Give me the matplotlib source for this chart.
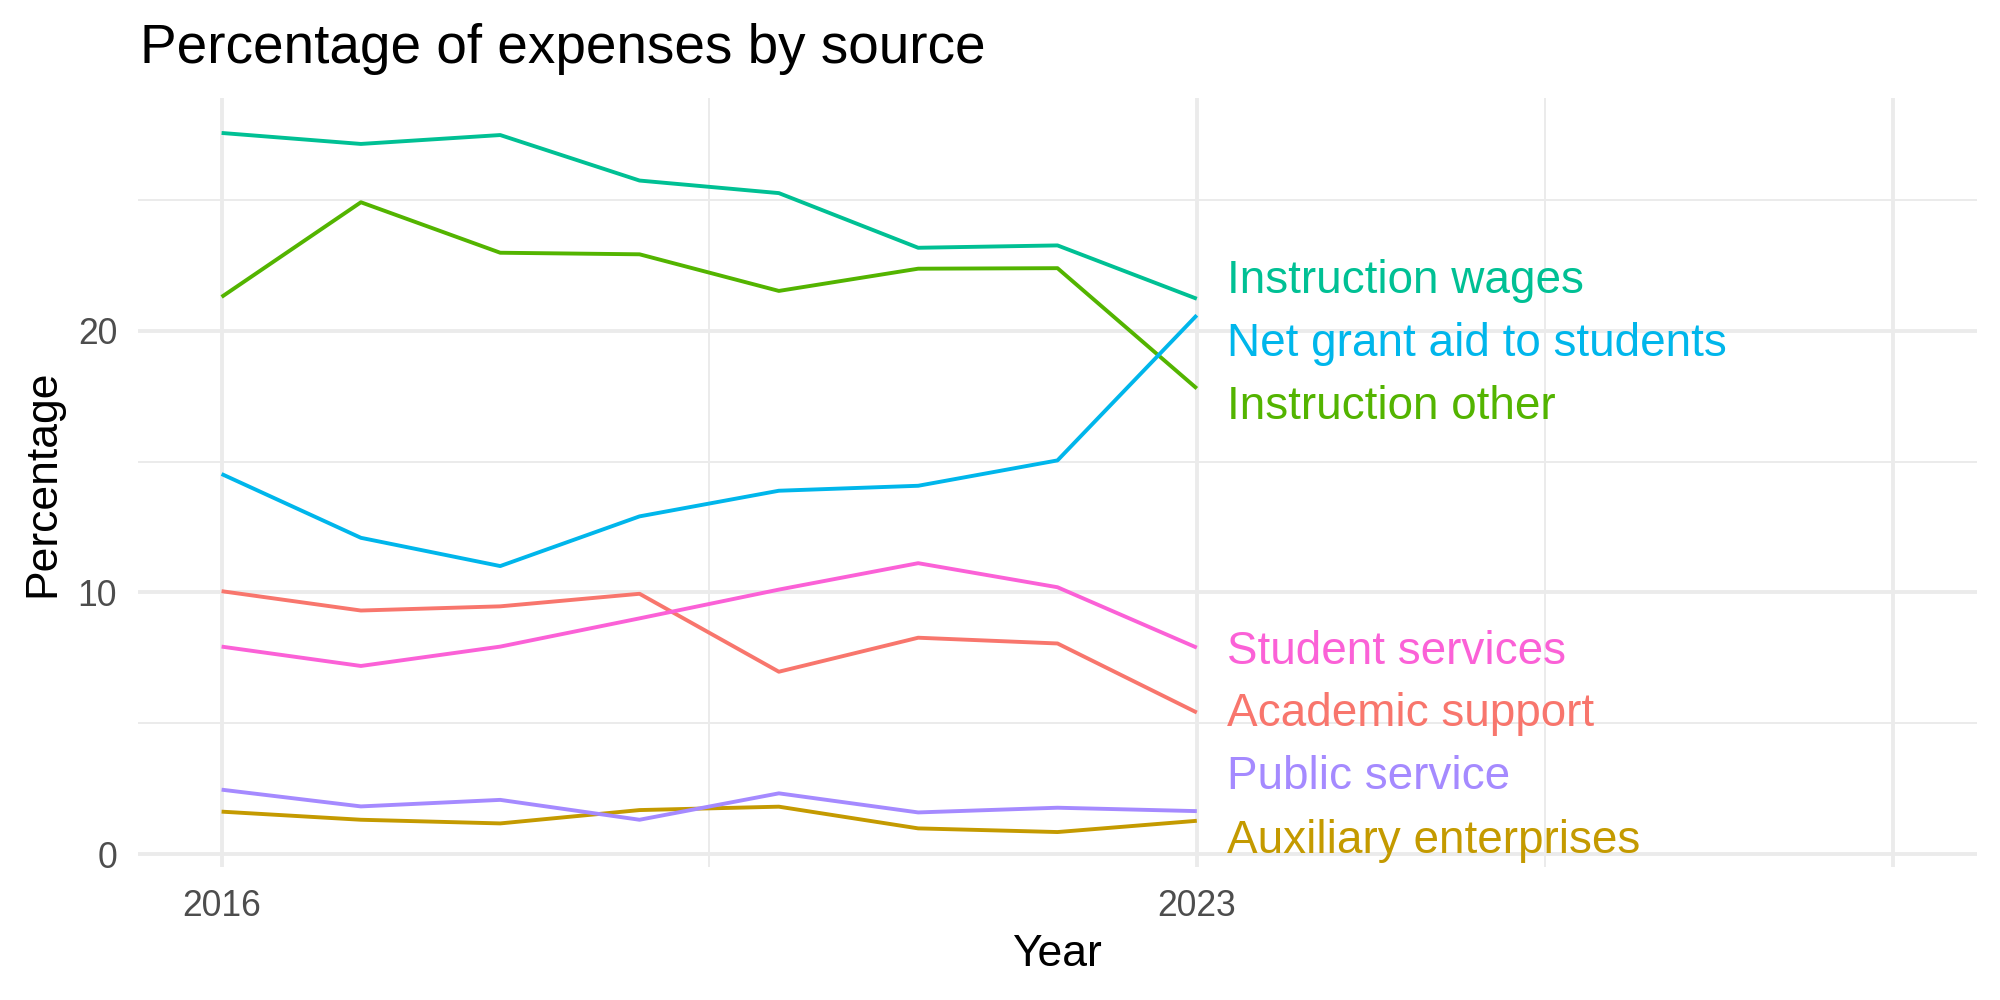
import numpy as np
import matplotlib
matplotlib.use("Agg")
import matplotlib.pyplot as plt
from matplotlib.ticker import FixedLocator

plt.rcParams['font.family'] = ['Liberation Sans', 'DejaVu Sans']

years = [2016, 2017, 2018, 2019, 2020, 2021, 2022, 2023]

# percentages
academic_support = [10.05, 9.31, 9.47, 9.95, 6.97, 8.27, 8.05, 5.41]
auxiliary_enterprises = [1.62, 1.31, 1.17, 1.68, 1.81, 0.98, 0.84, 1.27]
instruction_other = [21.30, 24.92, 22.99, 22.93, 21.53, 22.38, 22.40, 17.80]
instruction_wages = [27.57, 27.15, 27.49, 25.75, 25.27, 23.18, 23.27, 21.23]
net_grant_aid = [14.53, 12.09, 11.01, 12.91, 13.89, 14.08, 15.05, 20.60]
public_service = [2.46, 1.82, 2.07, 1.31, 2.32, 1.59, 1.77, 1.64]
student_services = [7.93, 7.19, 7.93, 9.01, 10.11, 11.12, 10.20, 7.89]

sources = ["Academic support", "Auxiliary enterprises", "Instruction other",
           "Instruction wages", "Net grant aid to students", "Public service",
           "Student services"]
series = [academic_support, auxiliary_enterprises, instruction_other,
          instruction_wages, net_grant_aid, public_service, student_services]
colors = ["#F8766D", "#C49A00", "#53B400", "#00C094", "#00B6EB", "#A58AFF", "#FB61D7"]

# repelled label heights (y of label centre)
label_y = [5.34, 0.50, 17.08, 21.90, 19.51, 2.93, 7.74]

fig = plt.figure(figsize=(20, 10), dpi=100)
ax = fig.add_axes([138/2000, 133/1000, 1839/2000, 769/1000])

for s, vals, c in zip(sources, series, colors):
    ax.plot(years, vals, color=c, lw=2.8, solid_capstyle='butt', zorder=3)

for s, ly, c in zip(sources, label_y, colors):
    ax.text(2023.22, ly, s, color=c, fontsize=33, ha='left', va='center', zorder=4)

ax.set_xlim(2016 - 0.6, 2028 + 0.6)
ax.margins(y=0.05)

ax.xaxis.set_major_locator(FixedLocator([2016, 2023, 2028]))
ax.set_xticklabels(["2016", "2023", ""])
ax.xaxis.set_minor_locator(FixedLocator([2019.5, 2025.5]))
ax.yaxis.set_major_locator(FixedLocator([0, 10, 20]))
ax.yaxis.set_minor_locator(FixedLocator([5, 15, 25]))

ax.grid(which='major', color='#EBEBEB', lw=2.8)
ax.grid(which='minor', color='#EBEBEB', lw=1.4)
ax.set_axisbelow(True)
for sp in ax.spines.values():
    sp.set_visible(False)
ax.tick_params(which='both', length=0)
ax.tick_params(axis='x', labelsize=25.6, labelcolor='#4D4D4D', pad=16)
ax.tick_params(axis='y', labelsize=25.6, labelcolor='#4D4D4D', pad=15)

fig.text(140/2000, 1 - 63/1000, "Percentage of expenses by source", fontsize=39.5,
         ha='left', va='baseline')
fig.text(1057/2000, 1 - 954/1000, "Year", fontsize=32, ha='center', va='center')
fig.text(22/2000, 1 - 483/1000, "Percentage", fontsize=32, rotation=90,
         ha='left', va='center')

fig.savefig("out.png", dpi=100)
